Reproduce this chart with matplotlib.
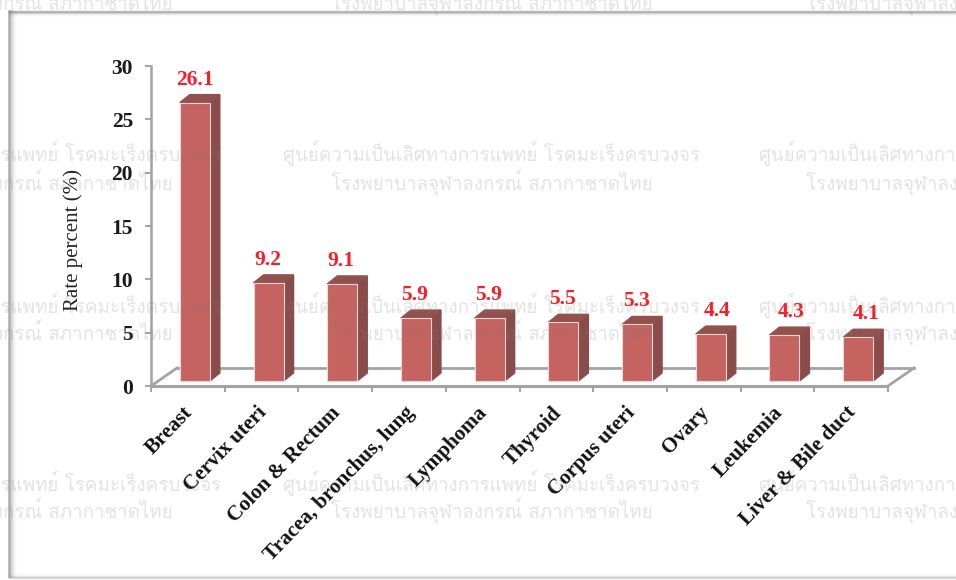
from matplotlib import pyplot as plt
from matplotlib.patches import Polygon
from matplotlib.transforms import ScaledTranslation

categories = ['Breast', 'Cervix uteri', 'Colon & Rectum', 'Tracea, bronchus, lung', 'Lymphoma',
              'Thyroid', 'Corpus uteri', 'Ovary', 'Leukemia', 'Liver & Bile duct']
values = [26.1, 9.2, 9.1, 5.9, 5.9, 5.5, 5.3, 4.4, 4.3, 4.1]
y_ticks = [0, 5, 10, 15, 20, 25, 30]
watermark1 = 'ศูนย์ความเป็นเลิศทางการแพทย์ โรคมะเร็งครบวงจร'
watermark2 = 'โรงพยาบาลจุฬาลงกรณ์ สภากาชาดไทย'

W, H = 956, 580
plt.rcParams['font.family'] = ['Liberation Serif']
thai_family = ['Loma', 'Noto Sans Thai Looped', 'DejaVu Sans']

fig = plt.figure(figsize=(W / 100, H / 100), dpi=100, facecolor='white')
ax = fig.add_axes([151 / W, 1 - 386 / H, 737 / W, 320 / H])
ax.set_xlim(-0.5, 9.5)
ax.set_ylim(0, 30)
ax.patch.set_alpha(0)


def shift(dx, dy):  # offset in pixels, y up
    return ax.transData + ScaledTranslation(dx / 100, dy / 100, fig.dpi_scale_trans)


# frame round the picture, soft inner shadow
for i in range(10):
    a = 0.5 * (1 - i / 10) ** 3
    fig.add_artist(plt.Line2D([(9 + i) / W] * 2, [1 - 577 / H, 1 - 11 / H], color='#707070', alpha=a, lw=1.2))
    fig.add_artist(plt.Line2D([9 / W, 1], [1 - (11 + i * 0.6) / H] * 2, color='#808080', alpha=a, lw=1))
    fig.add_artist(plt.Line2D([9 / W, 1], [1 - (578 - i * 0.6) / H] * 2, color='#808080', alpha=a * 0.5, lw=1))

# watermark rows, they lie over the chart
rows = [(-28, 3), (153, 183), (305, 333), (483, 511)]
for x0 in [12, 492, 967]:
    for y1, y2 in rows:
        if y1 > 0:
            fig.text(x0 / W, 1 - y1 / H, watermark1, family=thai_family, fontsize=13.5, color='#808080', alpha=0.22,
                     ha='center', va='center', zorder=8)
        fig.text(x0 / W, 1 - y2 / H, watermark2, family=thai_family, fontsize=13.5, color='#808080', alpha=0.22,
                 ha='center', va='center', zorder=8)

# floor
gray = '#a3a3a3'
y_off = 18
x_off = 26
ax.plot([-0.5, 9.5], [0, 0], color=gray, lw=2.2, clip_on=False, zorder=2, solid_capstyle='butt')
ax.plot([-0.5, 9.5], [0, 0], color=gray, lw=2, clip_on=False, zorder=2, transform=shift(x_off, y_off))
for xi in [-0.5, 9.5]:
    p0 = ax.transData.transform((xi, 0))
    fig.add_artist(plt.Line2D([p0[0] / W, (p0[0] + x_off) / W], [p0[1] / H, (p0[1] + y_off) / H], color=gray, lw=2))

# bars, front face then side and top
bar_w = 0.407
dx, dy = 10, 8
front = shift(7, 5)
bars = ax.bar(range(10), values, width=bar_w, color='#c4635f', edgecolor='#f3d6d4', linewidth=0.8,
              transform=front, zorder=4, clip_on=False)
x_per_px = 10 / 737
y_per_px = 30 / 320
for i, v in enumerate(values):
    l, r = i - bar_w / 2, i + bar_w / 2
    ddx, ddy = dx * x_per_px, dy * y_per_px
    ax.add_patch(Polygon([(r, 0), (r + ddx, ddy), (r + ddx, v + ddy), (r, v)], color='#8a4c4a', transform=front,
                         zorder=3, clip_on=False))
    ax.add_patch(Polygon([(l, v), (l + ddx, v + ddy), (r + ddx, v + ddy), (r, v)], color='#93514e', transform=front,
                         zorder=3, clip_on=False))

# value labels
label_dx = [0, -1, -1, -1, -1, -1, -1, 6, 7, 8]
for i, v in enumerate(values):
    ax.annotate(str(v), (i, v), xytext=((7 + label_dx[i]) * 0.72, (5 + 23) * 0.72), textcoords='offset points',
                ha='center', va='center', color='#fb1c26', fontsize=15.5, fontweight='bold', zorder=6)

# axes
for s in ['top', 'right', 'bottom']:
    ax.spines[s].set_visible(False)
ax.spines['left'].set_color(gray)
ax.spines['left'].set_linewidth(1.8)
ax.set_yticks(y_ticks)
ax.set_yticklabels([str(t) for t in y_ticks], fontsize=15.5, fontweight='bold', color='#1a1a1a')
ax.tick_params(axis='y', color=gray, length=4, width=1.4, pad=9)
ax.set_xticks([i - 0.5 for i in range(11)])
ax.set_xticklabels([])
ax.tick_params(axis='x', color=gray, length=4, width=1.4)
for i, c in enumerate(categories):
    ax.annotate(c, (i, 0), xytext=(1.5, -17), textcoords='offset points', rotation=46, rotation_mode='anchor',
                ha='right', va='center', fontsize=15.2, fontweight='bold', color='#111111')
fig.text(73.5 / W, 1 - 240 / H, 'Rate percent (%)', rotation=90, ha='center', va='center', fontsize=15, color='#222222')

fig.savefig('out.png', dpi=100)
